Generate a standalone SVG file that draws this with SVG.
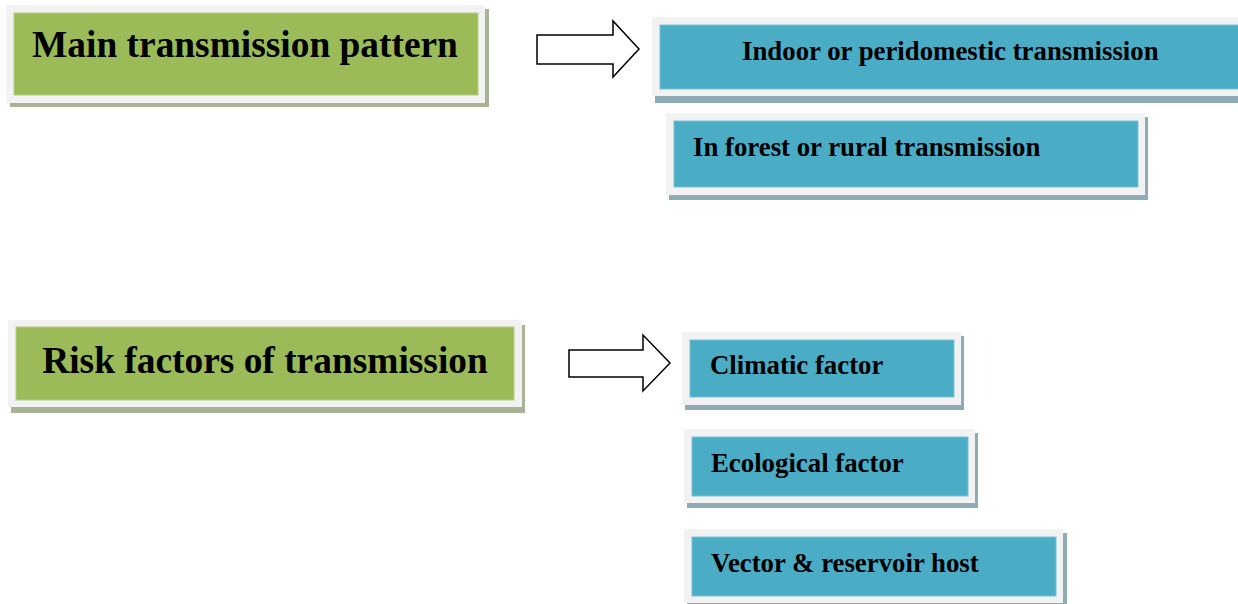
<svg xmlns="http://www.w3.org/2000/svg" width="1238" height="604" viewBox="0 0 1238 604">
<style>
.frame{fill:#f2f2f2}
.gs{fill:#a7b394}
.bs{fill:#8fabb6}
.green{fill:#9bbb59;stroke:#b5cd86;stroke-width:1}
.blue{fill:#4bacc6;stroke:#79c2d6;stroke-width:1}
.t{font-family:"Liberation Serif","Times New Roman",serif;font-weight:bold;fill:#000}
.big{font-size:37.4px}
.small{font-size:26.8px}
.arrow{fill:#fff;stroke:#000;stroke-width:1.5;stroke-linejoin:miter}
</style>
<rect width="1238" height="604" fill="#fff"/>
<g id="main-pattern">
<rect class="gs" x="10" y="9" width="479" height="98"/>
<rect class="frame" x="6" y="5" width="479" height="98"/>
<rect class="green" x="14" y="13" width="464" height="82"/>
<text class="t big" x="245" y="57" text-anchor="middle">Main transmission pattern</text>
</g>
<g id="indoor">
<rect class="bs" x="655" y="21" width="600" height="82"/>
<rect class="frame" x="652" y="17" width="600" height="79"/>
<rect class="blue" x="660" y="25" width="600" height="64"/>
<text class="t small" x="742" y="60">Indoor or peridomestic transmission</text>
</g>
<g id="forest">
<rect class="bs" x="669" y="117" width="479" height="83"/>
<rect class="frame" x="666" y="113" width="479" height="82"/>
<rect class="blue" x="674" y="121" width="464" height="66"/>
<text class="t small" x="693" y="156">In forest or rural transmission</text>
</g>
<g id="risk-factors">
<rect class="gs" x="11" y="325" width="514" height="88"/>
<rect class="frame" x="8" y="320" width="514" height="87"/>
<rect class="green" x="16" y="327" width="498" height="73"/>
<text class="t big" x="265" y="373" text-anchor="middle">Risk factors of transmission</text>
</g>
<g id="climatic">
<rect class="bs" x="685" y="336" width="279" height="74"/>
<rect class="frame" x="682" y="332" width="279" height="73"/>
<rect class="blue" x="690" y="340" width="264" height="57"/>
<text class="t small" x="710" y="374">Climatic factor</text>
</g>
<g id="ecological">
<rect class="bs" x="687" y="433" width="291" height="75"/>
<rect class="frame" x="684" y="429" width="291" height="74"/>
<rect class="blue" x="692" y="437" width="276" height="59"/>
<text class="t small" x="711" y="472">Ecological factor</text>
</g>
<g id="vector">
<rect class="bs" x="687" y="533" width="380" height="75"/>
<rect class="frame" x="684" y="529" width="379" height="74"/>
<rect class="blue" x="692" y="537" width="364" height="59"/>
<text class="t small" x="711" y="572">Vector &amp; reservoir host</text>
</g>
<g id="connectors">
<polygon class="arrow" points="537,35 613,35 613,21 639,49 613,77 613,64 537,64"/>
<polygon class="arrow" points="569,350 643,350 643,335 670,363 643,391 643,377 569,377"/>
</g>
</svg>
